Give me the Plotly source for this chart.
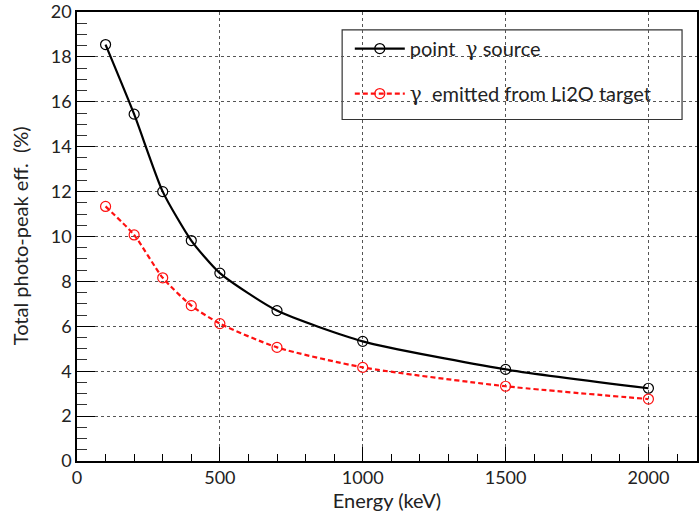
import plotly.graph_objects as go

energy = [100, 200, 300, 400, 500, 700, 1000, 1500, 2000]
eff_point = [18.55, 15.45, 12.0, 9.82, 8.37, 6.7, 5.33, 4.08, 3.24]
eff_li2o = [11.34, 10.07, 8.16, 6.92, 6.12, 5.06, 4.17, 3.33, 2.76]
NB = "\u00a0"
GAMMA = '<span style="font-family:DejaVu Serif">γ</span>'
name_point = "point" + NB + " " + GAMMA + " source"
name_li2o = GAMMA + NB + " emitted from Li2O target"
x_title = "Energy (keV)"
y_title = "Total photo-peak eff." + NB + " (%)"

FONT = "Lato"
TXT = "#222222"

fig = go.Figure()
fig.add_trace(go.Scatter(
    x=energy, y=eff_point, name=name_point, mode="lines+markers",
    line=dict(color="black", width=2.2, shape="spline", smoothing=0.6),
    marker=dict(symbol="circle-open", size=10, color="black", line=dict(width=1.2)),
    legendgroup="a",
))
fig.add_trace(go.Scatter(
    x=energy, y=eff_li2o, name=name_li2o, mode="lines+markers",
    line=dict(color="#ff1010", width=2.2, dash="5px,3px", shape="spline", smoothing=0.6),
    marker=dict(symbol="circle-open", size=10, color="#ff1010", line=dict(width=1.2)),
    legendgroup="b",
))

axis_common = dict(
    showline=True, linecolor="black", linewidth=1.5, mirror=True,
    ticks="inside", tickcolor="black",
    showgrid=True, gridcolor="#555555", griddash="dot", gridwidth=1,
    zeroline=False, ticklabeloverflow="allow",
    tickfont=dict(family=FONT, size=18, color=TXT),
)

fig.update_layout(
    width=699, height=519,
    margin=dict(l=77, r=0, t=10, b=58),
    paper_bgcolor="white", plot_bgcolor="white",
    font=dict(family=FONT, color=TXT),
    xaxis=dict(
        range=[0, 2170], tickvals=[0, 500, 1000, 1500, 2000],
        ticklen=14, tickwidth=1.2,
        minor=dict(dtick=100, tick0=0, ticks="inside", ticklen=7, tickcolor="black", showgrid=False),
        title=dict(text=x_title, font=dict(family=FONT, size=20, color=TXT), standoff=1),
        **axis_common,
    ),
    yaxis=dict(
        range=[0, 20], tickvals=[0, 2, 4, 6, 8, 10, 12, 14, 16, 18, 20],
        ticklen=18, tickwidth=1.2,
        minor=dict(dtick=0.5, tick0=0, ticks="inside", ticklen=10, tickcolor="#333333", showgrid=False),
        **axis_common,
    ),
    annotations=[dict(
        text=y_title, textangle=-90, showarrow=False,
        xref="paper", yref="paper", x=(20 - 77) / 622, y=(461 - 235) / 451,
        xanchor="center", yanchor="middle",
        font=dict(family=FONT, size=20, color=TXT),
    )],
    legend=dict(
        x=0.428 + 0.012, y=0.962, xanchor="left", yanchor="top",
        bgcolor="rgba(0,0,0,0)", borderwidth=0,
        font=dict(family=FONT, size=20, color=TXT),
        itemwidth=50, tracegroupgap=16, traceorder="grouped",
    ),
    shapes=[dict(
        type="rect", xref="paper", yref="paper",
        x0=(343 - 77) / 622, x1=(684 - 77) / 622,
        y0=(461 - 118) / 451, y1=(461 - 28) / 451,
        line=dict(color="#333333", width=1.2), fillcolor="white", layer="below",
    )],
)

fig.write_html("out.html")
